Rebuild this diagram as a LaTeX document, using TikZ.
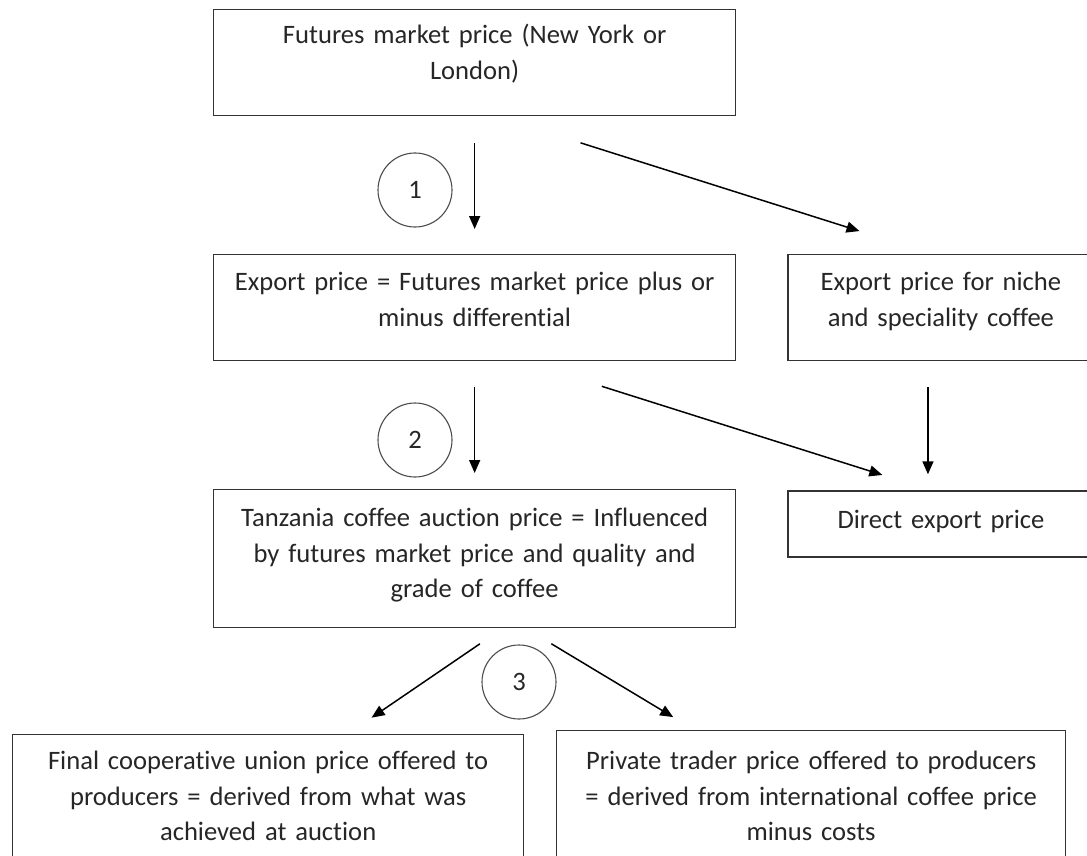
\documentclass[tikz,border=0pt]{standalone}
\usepackage{fontspec}
\setmainfont{Carlito}[Ligatures=NoCommon]
\usetikzlibrary{arrows.meta, positioning}

\begin{document}
\begin{tikzpicture}[
  x=1pt, y=-1pt,
  box/.style={draw=black!80, line width=1.3pt, rectangle, anchor=north west,
              inner sep=0pt, align=center, text=black!85,
              font=\fontsize{26.6}{35.5}\selectfont},
  num/.style={draw=black!70, line width=1.1pt, circle, minimum size=74pt,
              inner sep=0pt, text=black!85, font=\fontsize{26.6}{33}\selectfont},
  arr/.style={-{Triangle[length=13pt,width=11pt]}, line width=1.5pt, black},
]
\useasboundingbox (0,0) rectangle (1087,856);
\clip (0,0) rectangle (1087,856);

% price levels
\node[box, text width=522pt, text height=34pt, text depth=72pt] (fut) at (213,9)
  {Futures market price (New York or\\London)};
\node[box, text width=522pt, text height=36pt, text depth=70pt] (exp) at (213,254)
  {Export price = Futures market price plus or\\minus differential};
\node[box, text width=306pt, text height=36pt, text depth=70pt, right=51pt of exp] (niche)
  {Export price for niche\\and speciality coffee};
\node[box, text width=522pt, text height=37pt, text depth=101pt] (auct) at (213,489)
  {Tanzania coffee auction price = Influenced\\by futures market price and quality and\\grade of coffee};
\node[box, text width=306pt, text height=38pt, text depth=28pt, below=129pt of niche] (direct)
  {Direct export price};

% producer prices (cut off at the bottom)
\node[box, text width=511pt, text height=35pt, text depth=130pt] (coop) at (12,734)
  {Final cooperative union price offered to\\producers = derived from what was\\achieved at auction};
\node[box, text width=509pt, text height=39pt, text depth=130pt] (trader) at (556,730)
  {Private trader price offered to producers\\= derived from international coffee price\\minus costs};

% step numbers
\node[num] (n1) at (415,190) {1};
\node[num] (n2) at (415,440) {2};
\node[num] (n3) at (519,682) {3};

% arrows
\draw[arr, shorten <=27pt, shorten >=25pt] (fut.south) -- (exp.north);
\draw[arr, shorten <=88pt, shorten >=76pt] ([xshift=22pt]fut.south) -- ([xshift=-9pt]niche.north);
\draw[arr, shorten <=26pt, shorten >=16pt] (exp.south) -- (auct.north);
\draw[arr, shorten <=83pt, shorten >=51pt] ([xshift=48pt]exp.south) -- ([xshift=-10pt]direct.north);
\draw[arr, shorten <=26pt, shorten >=16pt] ([xshift=-13pt]niche.south) -- ([xshift=-13pt]direct.north);
\draw[arr, shorten <=27.5pt, shorten >=29pt] ([xshift=28pt]auct.south) -- ([xshift=79.5pt]coop.north);
\draw[arr, shorten <=30pt, shorten >=25pt] ([xshift=51pt]auct.south) -- ([xshift=-116.5pt]trader.north);

\end{tikzpicture}
\end{document}
